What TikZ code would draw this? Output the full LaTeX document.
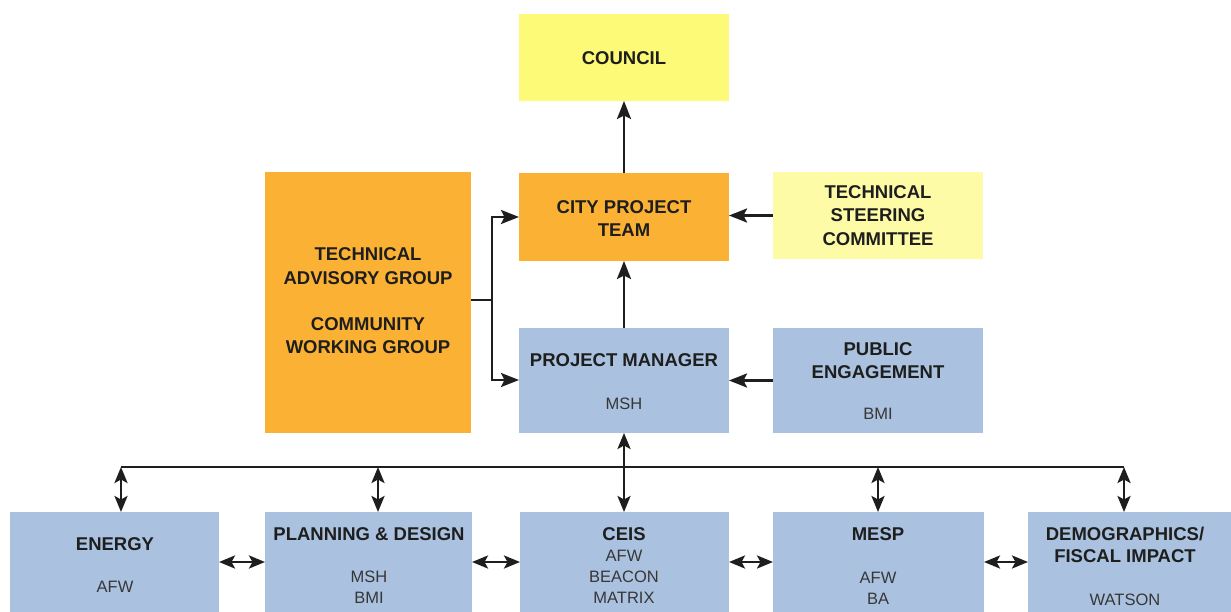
\documentclass[tikz,border=0pt]{standalone}
\usepackage{fontspec}
\setmainfont{Liberation Sans}
\usetikzlibrary{arrows.meta}
\definecolor{cyel}{RGB}{252,250,118}
\definecolor{lyel}{RGB}{254,251,166}
\definecolor{corg}{RGB}{251,178,52}
\definecolor{cblu}{RGB}{170,194,223}
\definecolor{ink}{RGB}{30,30,30}
\definecolor{gtxt}{RGB}{55,55,55}
\begin{document}
\begin{tikzpicture}[x=1pt,y=-1pt,
  box/.style={draw=none,inner sep=0pt,outer sep=0pt,anchor=north west},
  bt/.style={anchor=base,inner sep=0pt,text=ink,font=\bfseries\fontsize{18.5}{22}\selectfont},
  rt/.style={anchor=base,inner sep=0pt,text=gtxt,font=\fontsize{16.5}{20}\selectfont},
  line/.style={draw=ink,line width=2.6pt},
  conn/.style={line,-{Stealth[length=18pt,width=14pt,inset=3.5pt]}},
  dconn/.style={line,{Stealth[length=16pt,width=13pt,inset=3.5pt]}-{Stealth[length=16pt,width=13pt,inset=3.5pt]}}]
\clip (0,0) rectangle (1231,612);
\fill[white] (0,0) rectangle (1231,612);
% boxes
\node[box,fill=cyel,minimum width=210pt,minimum height=87pt] (council) at (519,14) {};
\node[box,fill=corg,minimum width=210pt,minimum height=88pt] (cpt) at (519,173) {};
\node[box,fill=lyel,minimum width=210pt,minimum height=87pt] (tsc) at (773,172) {};
\node[box,fill=corg,minimum width=206pt,minimum height=261pt] (tag) at (265,172) {};
\node[box,fill=cblu,minimum width=210pt,minimum height=105pt] (pm) at (519,328) {};
\node[box,fill=cblu,minimum width=210pt,minimum height=105pt] (pe) at (773,328) {};
\node[box,fill=cblu,minimum width=209pt,minimum height=100pt] (energy) at (10,512) {};
\node[box,fill=cblu,minimum width=207pt,minimum height=100pt] (plan) at (265,512) {};
\node[box,fill=cblu,minimum width=209pt,minimum height=100pt] (ceis) at (520,512) {};
\node[box,fill=cblu,minimum width=211pt,minimum height=100pt] (mesp) at (773,512) {};
\node[box,fill=cblu,minimum width=210pt,minimum height=100pt] (demo) at (1028,512) {};
% texts
\node[bt] (tcouncil) at (624,65) {COUNCIL};
\node[bt] (tcpt1) at (624,214) {CITY PROJECT};
\node[bt] (tcpt2) at (624,237) {TEAM};
\node[bt] (ttsc1) at (878,199) {TECHNICAL};
\node[bt] (ttsc2) at (878,222) {STEERING};
\node[bt] (ttsc3) at (878,246) {COMMITTEE};
\node[bt] (ttag1) at (368,261) {TECHNICAL};
\node[bt] (ttag2) at (368,284) {ADVISORY GROUP};
\node[bt] (ttag3) at (368,330) {COMMUNITY};
\node[bt] (ttag4) at (368,353) {WORKING GROUP};
\node[bt] (tpm1) at (624,366) {PROJECT MANAGER};
\node[rt] (tpm2) at (624,409) {MSH};
\node[bt] (tpe1) at (878,355) {PUBLIC};
\node[bt] (tpe2) at (878,378) {ENGAGEMENT};
\node[rt] (tpe3) at (878,419) {BMI};
\node[bt] (ten1) at (115,550) {ENERGY};
\node[rt] (ten2) at (115,592) {AFW};
\node[bt] (tpl1) at (369,540) {PLANNING \& DESIGN};
\node[rt] (tpl2) at (369,582) {MSH};
\node[rt] (tpl3) at (369,603) {BMI};
\node[bt] (tce1) at (624,540) {CEIS};
\node[rt] (tce2) at (624,561) {AFW};
\node[rt] (tce3) at (624,582) {BEACON};
\node[rt] (tce4) at (624,603) {MATRIX};
\node[bt] (tme1) at (878,540) {MESP};
\node[rt] (tme2) at (878,583) {AFW};
\node[rt] (tme3) at (878,604) {BA};
\node[bt] (tde1) at (1125,540) {DEMOGRAPHICS/};
\node[bt] (tde2) at (1125,562) {FISCAL IMPACT};
\node[rt] (tde3) at (1125,605) {WATSON};
% connectors upper part
\draw[conn] (cpt.north) -- (council.south);
\draw[conn] (pm.north) -- (cpt.south);
\draw[conn] (tsc.west) -- (tsc.west -| cpt.east);
\draw[conn] (pe.west) -- (pe.west -| pm.east);
\coordinate (jm) at (492,300);
\coordinate (jt) at (492,217);
\coordinate (jb) at (492,380);
\draw[line] (tag.east |- jm) -- (jm);
\draw[conn] (jm) -- (jt) -- (jt -| cpt.west);
\draw[conn] (jm) -- (jb) -- (jb -| pm.west);
% bus
\coordinate (b1) at (121,467);
\coordinate (b2) at (378,467);
\coordinate (b4) at (878,467);
\coordinate (b5) at (1124,467);
\draw[line] (b1) -- (b5);
\draw[dconn] (b1) -- (b1 |- energy.north);
\draw[dconn] (b2) -- (b2 |- plan.north);
\draw[dconn] (b4) -- (b4 |- mesp.north);
\draw[dconn] (b5) -- (b5 |- demo.north);
\draw[dconn] (pm.south) -- (pm.south |- ceis.north);
% horizontal links
\draw[dconn] (energy.east) -- (plan.west);
\draw[dconn] (plan.east) -- (ceis.west);
\draw[dconn] (ceis.east) -- (mesp.west);
\draw[dconn] (mesp.east) -- (demo.west);
\end{tikzpicture}
\end{document}
